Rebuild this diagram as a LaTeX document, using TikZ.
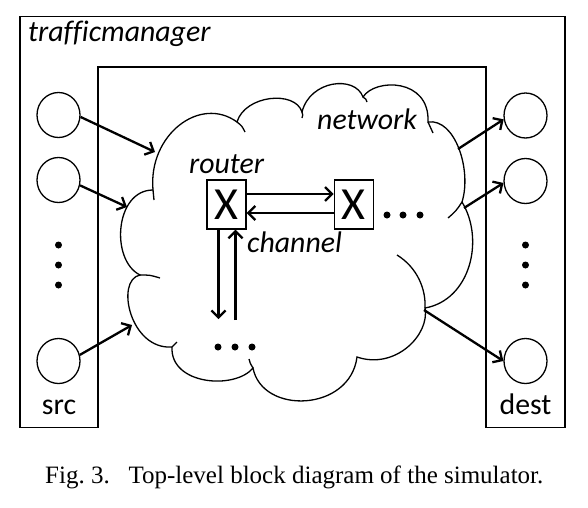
\documentclass[tikz,border=0pt]{standalone}
\usepackage{fontspec}
\setmainfont{Liberation Serif}
\newfontfamily\calfont[Ligatures=NoCommon]{Carlito}
\usetikzlibrary{arrows.meta,shapes.geometric,positioning}
\begin{document}
\begin{tikzpicture}[x=1pt,y=-1pt,
    box/.style={line width=1.7pt},
    cloudline/.style={line width=1.3pt},
    port/.style={draw,ellipse,line width=1.3pt,minimum width=43pt,minimum height=45pt,inner sep=0pt},
    rtr/.style={draw,line width=1.3pt,minimum width=39pt,minimum height=49pt,inner sep=0pt,font={\calfont\fontsize{46}{46}\selectfont}},
    lbl/.style={inner sep=0pt,font={\calfont\itshape\fontsize{29.8}{32}\selectfont}},
    side/.style={inner sep=0pt,font={\calfont\fontsize{29.8}{32}\selectfont}},
    arr/.style={line width=2.3pt,-{Straight Barb[length=7pt,width=14pt]}}]
    \useasboundingbox (0,0) rectangle (588,507);
    \draw[box] (98,427.5) -- (20,427.5) -- (20,16.5) -- (565,16.5) -- (565,427.5) -- (486,427.5) -- (486,67) -- (98,67) -- cycle;
    \node[lbl,anchor=base west] (tm) at (28,41) {trafficmanager};
    \draw[cloudline] (153,190) .. controls (148,135) and (200,95) .. (237,122)
        .. controls (245,95) and (295,90) .. (302,112)
        .. controls (310,80) and (355,75) .. (363,97)
        .. controls (375,78) and (430,78) .. (428,122)
        .. controls (455,118) and (472,170) .. (462,202)
        .. controls (485,240) and (470,300) .. (425,308)
        .. controls (430,335) and (395,370) .. (357,357)
        .. controls (350,412) and (262,415) .. (253,368)
        .. controls (235,390) and (170,385) .. (172,347)
        .. controls (130,350) and (115,280) .. (140,275)
        .. controls (110,260) and (115,190) .. cycle;
    \draw[cloudline] (237,122) .. controls (242,126) .. (245,132);
    \draw[cloudline] (302,112) .. controls (303,115) .. (302,118);
    \draw[cloudline] (363,97) .. controls (366,99) .. (367,102);
    \draw[cloudline] (428,122) .. controls (431,127) .. (433,133);
    \draw[cloudline] (462,202) .. controls (456,211) .. (448,218);
    \draw[cloudline] (425,308) .. controls (426,290) and (418,268) .. (397,255);
    \draw[cloudline] (253,368) .. controls (250,363) .. (249,359);
    \draw[cloudline] (172,347) .. controls (174,344) .. (177,342);
    \draw[cloudline] (140,275) .. controls (150,275) .. (160,278);
    \draw[cloudline] (153,190) .. controls (153,195) .. (154,200);
    \node[lbl,anchor=base west] (net) at (317,129) {network};
    \node[port] (s1) at (58.5,115) {};
    \node[port] (s2) at (58.5,180) {};
    \node[port] (s3) at (58.5,361) {};
    \node[port] (d1) at (525.5,115.5) {};
    \node[port] (d2) at (525.5,181) {};
    \node[port] (d3) at (525.5,361) {};
    \foreach \y in {245,265,285} {
        \fill (58.5,\y) circle[radius=3.5pt];
        \fill (525.5,\y) circle[radius=3.5pt];
    }
    \node[side,anchor=base] (src) at (59,414) {src};
    \node[side,anchor=base] (dst) at (525.5,414) {dest};
    \coordinate (in1) at (155,152);
    \coordinate (in2) at (127,207);
    \coordinate (in3) at (132,325);
    \coordinate (out1) at (458,149);
    \coordinate (out2) at (464,208);
    \coordinate (out3) at (424,310);
    \draw[arr] (s1.-5) -- (in1);
    \draw[arr] (s2.-14) -- (in2);
    \draw[arr] (s3.16) -- (in3);
    \draw[arr] (out1) -- (d1.190);
    \draw[arr] (out2) -- (d2.185);
    \draw[arr] (out3) -- (d3.west);
    \node[rtr] (r1) at (226.5,204.5) {X};
    \node[rtr,right=87pt of r1] (r2) {X};
    \node[lbl,anchor=base] (rlab) at ([yshift=6pt]r1.north) {router};
    \node[lbl,anchor=base west] (clab) at (247,252) {channel};
    \draw[arr] ([yshift=10.5pt]r1.east) -- ([yshift=10.5pt]r2.west);
    \draw[arr] ([yshift=-8.5pt]r2.west) -- ([yshift=-8.5pt]r1.east);
    \coordinate (b1) at (218.5,319);
    \coordinate (b2) at (235.5,320);
    \draw[arr] ([xshift=-8pt]r1.south) -- (b1);
    \draw[arr] (b2) -- ([xshift=9pt]r1.south);
    \foreach \x in {387,403,420} \fill (\x,215) circle[radius=3.5pt];
    \foreach \x in {218,235,252} \fill (\x,347) circle[radius=3.5pt];
    \node[anchor=base west,inner sep=0pt,font={\fontsize{25}{28}\selectfont}] (cap) at (45,483.3) {Fig.~3.\hspace{0.75em}Top-level block diagram of the simulator.};
\end{tikzpicture}
\end{document}
